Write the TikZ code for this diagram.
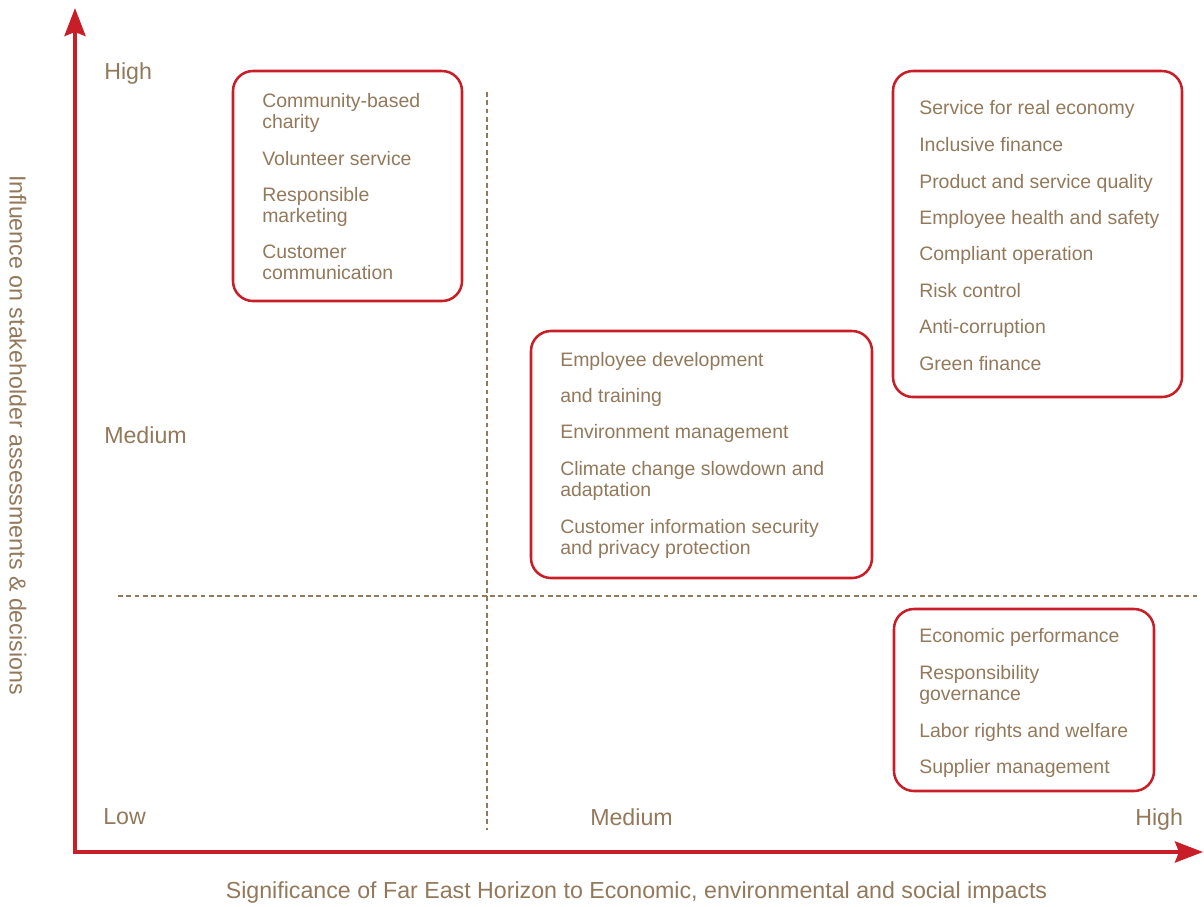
\documentclass[tikz,border=0pt]{standalone}
\usepackage{tikz,pgf}
\usepackage{fontspec}
\setmainfont{Liberation Sans}
\usetikzlibrary{arrows.meta}

\definecolor{fehred}{RGB}{200,30,40}
\definecolor{fehbrown}{RGB}{146,121,91}

\tikzset{
  itemtext/.style={anchor=north west, inner sep=0pt, align=left, text=fehbrown, font=\fontsize{14.6}{15.75}\selectfont},
  axislabel/.style={anchor=north west, inner sep=0pt, text=fehbrown, font=\fontsize{17.4}{20}\selectfont},
  itembox/.style={draw=fehred, line width=1.9pt, rounded corners=15pt},
  guideline/.style={draw=fehbrown, line width=0.8pt, dash pattern={on 3.6pt off 2.6pt}},
  axisline/.style={draw=fehred, line width=3pt, {Stealth[length=21pt,width=15.75pt,inset=3pt]}-{Stealth[length=21pt,width=15.75pt,inset=3pt]}}
}

\begin{document}
\begin{tikzpicture}[x=0.75pt,y=0.75pt,yscale=-1,xscale=1]
%set diagram left start at 0, and has height of 907
\useasboundingbox (0,0) rectangle (1204,907);

%Straight Lines: quadrant guides
\draw [guideline] (487,92) -- (487,830) ;
\draw [guideline] (118,596) -- (1197,596) ;

%Axes
\coordinate (ytip) at (75,8);
\coordinate (origin) at (75,852);
\coordinate (xtip) at (1203,852);
\draw [axisline] (ytip) -- (origin) -- (xtip) ;

%Shape: Rounded Rect (community)
\draw [itembox] (233,71) rectangle (462,301) ;
%Shape: Rounded Rect (material)
\draw [itembox] (893,71) rectangle (1182,397) ;
%Shape: Rounded Rect (employee)
\draw [itembox] (531,331) rectangle (872,578) ;
%Shape: Rounded Rect (economic)
\draw [itembox] (894,609) rectangle (1154,791) ;

% Text Node
\node (charity) [itemtext] at (262,93) {Community-based\\charity};
% Text Node
\node (volunteer) [itemtext] at (262,151) {Volunteer service};
% Text Node
\node (marketing) [itemtext] at (262,187) {Responsible\\marketing};
% Text Node
\node (custcomm) [itemtext] at (262,245) {Customer\\communication};

% Text Node
\node (realeconomy) [itemtext] at (919,100) {Service for real economy};
% Text Node
\node (inclusive) [itemtext] at (919,137) {Inclusive finance};
% Text Node
\node (quality) [itemtext] at (919,174) {Product and service quality};
% Text Node
\node (safety) [itemtext] at (919,210) {Employee health and safety};
% Text Node
\node (compliant) [itemtext] at (919,246) {Compliant operation};
% Text Node
\node (risk) [itemtext] at (919,283) {Risk control};
% Text Node
\node (anticorr) [itemtext] at (919,319) {Anti-corruption};
% Text Node
\node (green) [itemtext] at (919,356) {Green finance};

% Text Node
\node (empdev) [itemtext] at (560,352) {Employee development};
% Text Node
\node (training) [itemtext] at (560,388) {and training};
% Text Node
\node (environment) [itemtext] at (560,424) {Environment management};
% Text Node
\node (climate) [itemtext] at (560,461) {Climate change slowdown and\\adaptation};
% Text Node
\node (privacy) [itemtext] at (560,519) {Customer information security\\and privacy protection};

% Text Node
\node (econperf) [itemtext] at (919,628) {Economic performance};
% Text Node
\node (governance) [itemtext] at (919,665) {Responsibility\\governance};
% Text Node
\node (labor) [itemtext] at (919,723) {Labor rights and welfare};
% Text Node
\node (supplier) [itemtext] at (919,759) {Supplier management};

% Text Node
\node (yhigh) [axislabel] at (104,62) {High};
% Text Node
\node (ymedium) [axislabel] at (104,426) {Medium};
% Text Node
\node (xlow) [axislabel] at (103,808) {Low};
% Text Node
\node (xmedium) [axislabel] at (590,808) {Medium};
% Text Node
\node (xhigh) [axislabel] at (1135,808) {High};
% Text Node
\node (xtitle) [axislabel, anchor=north] at (636.5,881) {Significance of Far East Horizon to Economic, environmental and social impacts};
% Text Node
\node (ytitle) [axislabel, anchor=center, rotate=-90] at (18,435) {Influence on stakeholder assessments \& decisions};

\end{tikzpicture}
\end{document}
